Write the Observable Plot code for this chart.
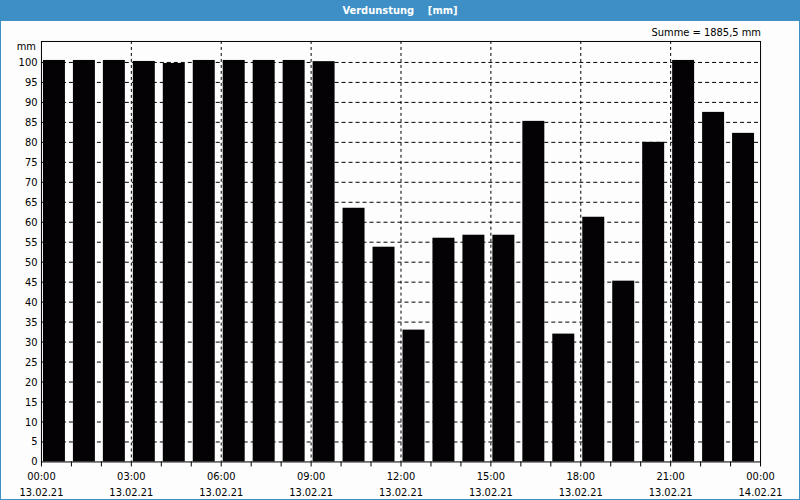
<!DOCTYPE html>
<html>
<head>
<meta charset="utf-8">
<script src="https://cdn.jsdelivr.net/npm/d3@7"></script>
<script src="https://cdn.jsdelivr.net/npm/@observablehq/plot@0.6"></script>
<style>
  html, body { margin: 0; padding: 0; background: #fcfdfc; }
  #wrap {
    position: relative; width: 800px; height: 500px; box-sizing: border-box;
    border: 1px solid #3d8fc6; background: #fcfdfc; overflow: hidden;
    font-family: "DejaVu Sans Condensed", "DejaVu Sans", sans-serif;
  }
  #title {
    position: absolute; left: 0; top: 0; width: 100%; height: 20px;
    background: #3d8fc6; color: #fff; font-weight: bold; font-size: 11px;
    line-height: 20px; text-align: center; white-space: pre;
  }
  #sum {
    position: absolute; right: 38px; top: 25px; font-size: 11px; line-height: 13px; color: #000;
  }
  #unit {
    position: absolute; right: 763px; top: 39px; font-size: 11px; line-height: 13px; color: #000;
  }
  #chart { position: absolute; left: -1px; top: 19px; }
</style>
</head>
<body>
<div id="wrap">
  <div id="title">Verdunstung    [mm]</div>
  <div id="sum">Summe = 1885,5 mm</div>
  <div id="unit">mm</div>
  <div id="chart"></div>
</div>
<script>
// Hourly evaporation values, 13.02.21 (hour of day -> mm)
const hourOfDay = [0, 1, 2, 3, 4, 5, 6, 7, 8, 9, 10, 11, 12, 13, 14, 15, 16, 17, 18, 19, 20, 21, 22, 23];
const values = [100.5, 100.5, 100.5, 100.25, 99.75, 100.5, 100.5, 100.5, 100.5, 100.2,
                63.5, 53.75, 33, 56, 56.75, 56.75, 85.25, 32, 61.25, 45.25, 80, 100.5, 87.5, 82.25];
// x-axis labels every 3 hours
const labelHours = [0, 3, 6, 9, 12, 15, 18, 21, 24];
const timeLabels = ["00:00", "03:00", "06:00", "09:00", "12:00", "15:00", "18:00", "21:00", "00:00"];
const dateLabels = ["13.02.21", "13.02.21", "13.02.21", "13.02.21", "13.02.21", "13.02.21", "13.02.21", "13.02.21", "14.02.21"];
const yTicks = [0, 5, 10, 15, 20, 25, 30, 35, 40, 45, 50, 55, 60, 65, 70, 75, 80, 85, 90, 95, 100];

const base = Date.UTC(2021, 1, 13, 0, 0);
const H = 3600 * 1000;
const at = h => new Date(base + h * H);

const data = hourOfDay.map((h, i) => ({start: at(h), value: values[i]}));
const hourTicks = d3.range(0, 25).map(at);
const labelTicks = labelHours.map(at);
const vGrid = labelHours.filter(h => h > 0 && h < 24).map(at);
const tLab = new Map(labelHours.map((h, i) => [+at(h), timeLabels[i]]));
const dLab = new Map(labelHours.map((h, i) => [+at(h), dateLabels[i]]));

const chart = Plot.plot({
  width: 800,
  height: 481,
  marginTop: 21,
  marginBottom: 39,
  marginLeft: 41,
  marginRight: 39,
  style: {
    fontFamily: '"DejaVu Sans Condensed", "DejaVu Sans", sans-serif',
    fontSize: "11px",
    background: "transparent",
    color: "#000"
  },
  x: {type: "utc", domain: [at(0), at(24)]},
  y: {domain: [0, 105.25]},
  marks: [
    Plot.gridY(yTicks.filter(v => v > 0), {stroke: "#000", strokeOpacity: 1, strokeDasharray: "4,3"}),
    Plot.gridX(vGrid, {stroke: "#000", strokeOpacity: 1, strokeDasharray: "3,3"}),
    Plot.rectY(data, {
      x1: d => new Date(+d.start + 4 * 60 * 1000),
      x2: d => new Date(+d.start + 48 * 60 * 1000),
      y: "value",
      fill: "#050205",
      inset: 0
    }),
    Plot.frame({stroke: "#000", strokeWidth: 1}),
    Plot.axisY(yTicks, {tickSize: 0, tickPadding: 4, label: null}),
    Plot.axisX(hourTicks, {tickSize: 5, tickFormat: () => "", label: null, stroke: "#000"}),
    Plot.axisX(labelTicks, {tickSize: 0, tickPadding: 10, tickFormat: d => tLab.get(+d), label: null}),
    Plot.axisX(labelTicks, {tickSize: 0, tickPadding: 26, tickFormat: d => dLab.get(+d), label: null})
  ]
});
document.getElementById("chart").appendChild(chart);
</script>
</body>
</html>
